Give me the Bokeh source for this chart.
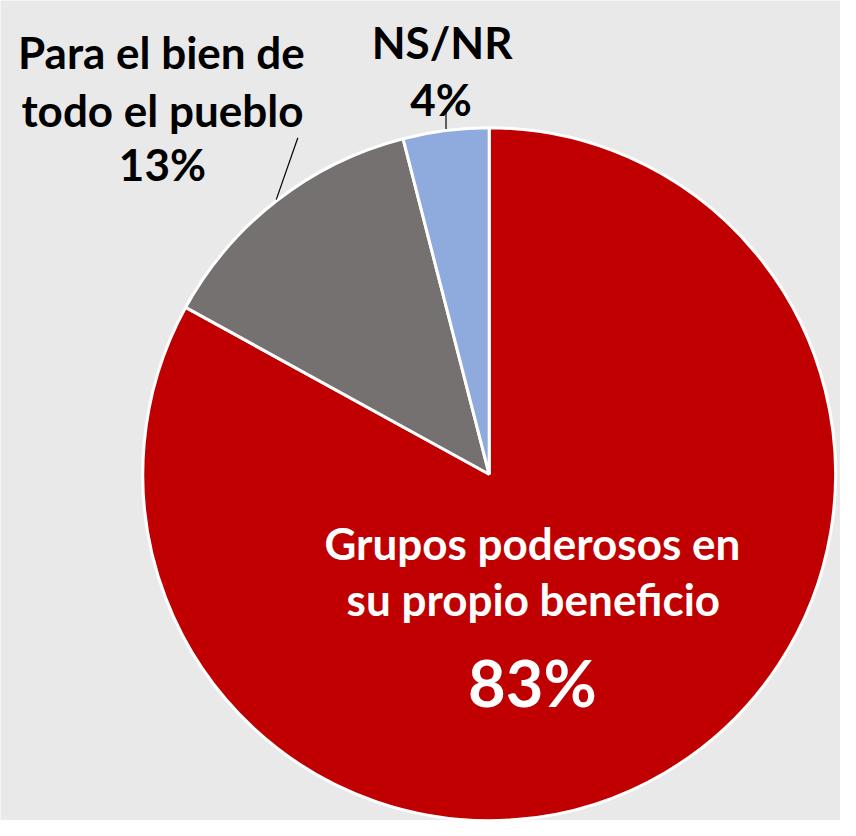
import numpy as np
from bokeh.plotting import figure
from bokeh.models import Range1d
from bokeh.core.properties import value
from bokeh.embed import file_html
from bokeh.resources import INLINE

# ---- data ----
categories = ["Grupos poderosos en su propio beneficio", "Para el bien de todo el pueblo", "NS/NR"]
values = [83, 13, 4]
colors = ["#C00000", "#767171", "#8FAADC"]

BG = "#e9e9e9"
W, H = 840, 820
REF_W, REF_H = 856, 836


def Y(ypix):
    return REF_H - ypix


p = figure(width=W, height=H, output_backend="svg", toolbar_location=None,
           x_range=Range1d(0, REF_W), y_range=Range1d(0, REF_H),
           min_border=0)
p.background_fill_color = BG
p.border_fill_color = BG
p.outline_line_color = None
p.axis.visible = False
p.grid.visible = False

cx, cy, r = 498, Y(483), 353

vals = np.array(values, dtype=float)
frac = vals / vals.sum()
ends = np.pi / 2 - 2 * np.pi * np.cumsum(frac)
starts = np.concatenate([[np.pi / 2], ends[:-1]])

p.wedge(x=cx, y=cy, radius=r, start_angle=list(starts), end_angle=list(ends),
        direction="clock", fill_color=colors, line_color="white", line_width=3)

# leader lines
p.line([454, 454], [Y(111), Y(131)], line_color="black", line_width=1.2)
p.line([303, 281], [Y(140), Y(203)], line_color="black", line_width=1.2)

font = value("Lato")
# outside labels
p.text(x=[164, 165, 165], y=[Y(53), Y(112), Y(167)],
       text=["Para el bien de", "todo el pueblo", f"{values[1]}%"],
       text_font=font, text_font_style="bold", text_font_size="44px",
       text_align="center", text_baseline="alphabetic", text_color="black")
p.text(x=[450, 449], y=[Y(42), Y(100)],
       text=[categories[2], f"{values[2]}%"],
       text_font=font, text_font_style="bold", text_font_size="44px",
       text_align="center", text_baseline="alphabetic", text_color="black")
# inside label
p.text(x=[542, 543], y=[Y(553), Y(610)],
       text=["Grupos poderosos en", "su propio beneficio"],
       text_font=font, text_font_style="bold", text_font_size="44px",
       text_align="center", text_baseline="alphabetic", text_color="white")
p.text(x=[542], y=[Y(695)], text=[f"{values[0]}%"],
       text_font=font, text_font_style="bold", text_font_size="65px",
       text_align="center", text_baseline="alphabetic", text_color="white")

html = file_html(p, INLINE)
html = html.replace("<body>", f'<body style="background:{BG}">', 1)
open("out.html", "w").write(html)
